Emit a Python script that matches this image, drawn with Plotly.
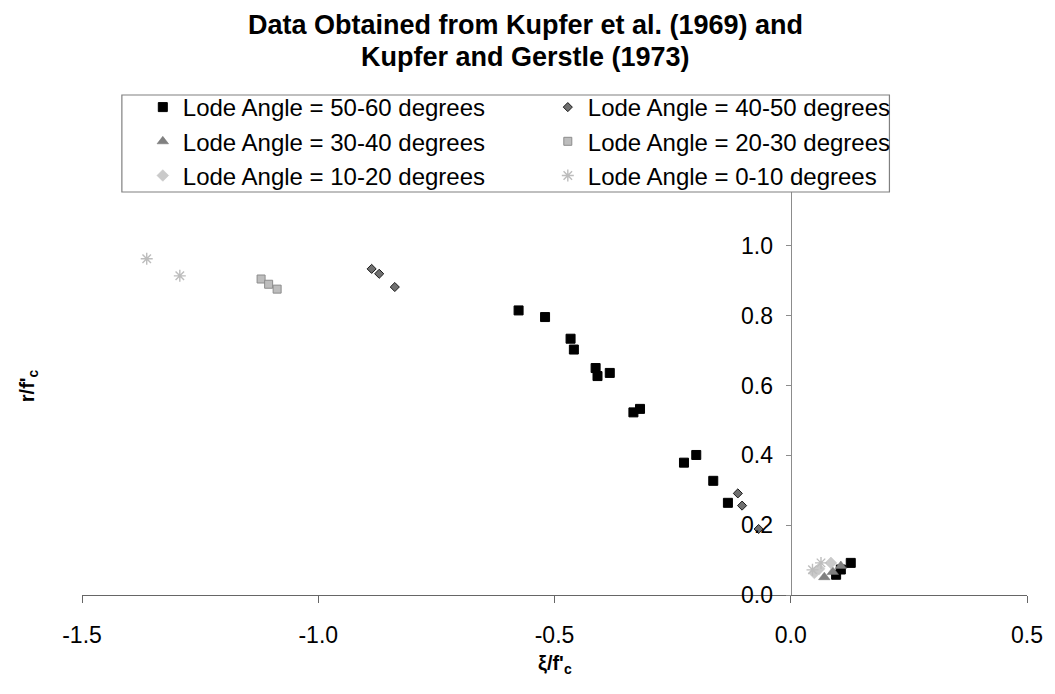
import plotly.graph_objects as go

# ---- data ----
series_names = [
    "Lode Angle = 50-60 degrees",
    "Lode Angle = 40-50 degrees",
    "Lode Angle = 30-40 degrees",
    "Lode Angle = 20-30 degrees",
    "Lode Angle = 10-20 degrees",
    "Lode Angle = 0-10 degrees",
]

xi_50_60 = [-0.576, -0.520, -0.466, -0.459, -0.413, -0.409, -0.383, -0.333, -0.319,
            -0.226, -0.200, -0.164, -0.133, 0.096, 0.106, 0.127]
r_50_60 = [0.815, 0.796, 0.734, 0.703, 0.650, 0.627, 0.636, 0.523, 0.533,
           0.379, 0.401, 0.327, 0.264, 0.058, 0.073, 0.092]

xi_40_50 = [-0.887, -0.871, -0.838, -0.112, -0.103, -0.068]
r_40_50 = [0.934, 0.920, 0.882, 0.291, 0.256, 0.189]

xi_30_40 = [0.071, 0.089, 0.106]
r_30_40 = [0.051, 0.066, 0.083]

xi_20_30 = [-1.121, -1.105, -1.087]
r_20_30 = [0.905, 0.890, 0.876]

xi_10_20 = [0.050, 0.060, 0.085]
r_10_20 = [0.063, 0.075, 0.092]

xi_0_10 = [-1.363, -1.293, 0.046, 0.064]
r_0_10 = [0.963, 0.914, 0.072, 0.092]

x_tick_vals = [-1.5, -1.0, -0.5, 0.0, 0.5]
x_tick_text = ["-1.5", "-1.0", "-0.5", "0.0", "0.5"]
y_tick_vals = [0.0, 0.2, 0.4, 0.6, 0.8, 1.0]
y_tick_text = ["0.0", "0.2", "0.4", "0.6", "0.8", "1.0"]

title_lines = ["Data Obtained from Kupfer et al. (1969) and", "Kupfer and Gerstle (1973)"]

FONT = "Liberation Sans, Arial, sans-serif"

fig = go.Figure()

styles = [
    dict(symbol="square", size=9, color="#000000", line=dict(color="#000000", width=1)),
    dict(symbol="diamond", size=7, color="#707070", line=dict(color="#1a1a1a", width=1)),
    dict(symbol="triangle-up", size=10, color="#808080", line=dict(color="#707070", width=0.5)),
    dict(symbol="square", size=8, color="#bdbdbd", line=dict(color="#8c8c8c", width=1)),
    dict(symbol="diamond", size=9, color="#cacaca", line=dict(color="#c0c0c0", width=0.5)),
    dict(symbol="asterisk-open", size=10, color="#bdbdbd", line=dict(color="#bdbdbd", width=1.4)),
]
xs = [xi_50_60, xi_40_50, xi_30_40, xi_20_30, xi_10_20, xi_0_10]
ys = [r_50_60, r_40_50, r_30_40, r_20_30, r_10_20, r_0_10]

for name, x, y, st in zip(series_names, xs, ys, styles):
    fig.add_trace(go.Scatter(x=x, y=y, mode="markers", name=name, marker=st))

# The page body has an 8px margin, so the figure is drawn 8px lower/right.
OFF = 8
W, H = 1055 - OFF, 694 - OFF
ml, mr, mt, mb = 82 - OFF, 25, 176 - OFF, 99
pw, ph = W - ml - mr, H - mt - mb

def px_x(p):
    # p: screen pixel in reference
    return (p - OFF - ml) / pw

def px_y(p):
    return (H - mb - (p - OFF)) / ph

fig.update_layout(
    width=W, height=H,
    margin=dict(l=ml, r=mr, t=mt, b=mb),
    paper_bgcolor="white", plot_bgcolor="white",
    font=dict(family=FONT, color="#000000", size=21),
    xaxis=dict(
        range=[-1.5, 0.5], tickvals=x_tick_vals, ticktext=x_tick_text,
        showgrid=False, zeroline=False, showline=True, linecolor="#666666", linewidth=1.2,
        ticks="outside", ticklen=7, tickcolor="#666666", tickwidth=1.2,
        ticklabelstandoff=12, tickfont=dict(size=23, family=FONT),
    ),
    yaxis=dict(
        range=[0, 1.2], tickvals=y_tick_vals, ticktext=y_tick_text,
        anchor="free", position=0.75, side="left",
        showgrid=False, zeroline=False, showline=True, linecolor="#8c8c8c", linewidth=1.2,
        ticks="outside", ticklen=5, tickcolor="#8c8c8c", tickwidth=1.2,
        ticklabelstandoff=8, tickfont=dict(size=23, family=FONT),
    ),
    legend=dict(
        orientation="h", x=px_x(143), xanchor="left", y=px_y(85), yanchor="top",
        entrywidth=360, entrywidthmode="pixels",
        bgcolor="rgba(0,0,0,0)", borderwidth=0,
        font=dict(size=24, family=FONT), itemsizing="trace",
    ),
    showlegend=True,
)

# legend box
fig.add_shape(type="rect", xref="paper", yref="paper",
              x0=px_x(122), x1=px_x(892), y0=px_y(192), y1=px_y(95),
              fillcolor="white", line=dict(color="#808080", width=1.2), layer="above")

# chart title (two centred bold lines)
for line_text, y_mid in zip(title_lines, [25, 57]):
    fig.add_annotation(text=line_text, xref="paper", yref="paper",
                       x=px_x(527), y=px_y(y_mid), showarrow=False,
                       xanchor="center", yanchor="middle", borderpad=0,
                       font=dict(family=FONT, size=27, weight="bold", color="#000000"))

# axis titles
fig.add_annotation(text="r/f'<sub>c</sub>", xref="paper", yref="paper",
                   x=px_x(28), y=px_y(386), textangle=-90, showarrow=False,
                   xanchor="center", yanchor="middle",
                   font=dict(family=FONT, size=20, weight="bold", color="#000000"))
fig.add_annotation(text="ξ/f'<sub>c</sub>", xref="paper", yref="paper",
                   x=px_x(556), y=px_y(664), showarrow=False,
                   xanchor="center", yanchor="middle",
                   font=dict(family=FONT, size=20, weight="bold", color="#000000"))

fig.write_html("out.html")
